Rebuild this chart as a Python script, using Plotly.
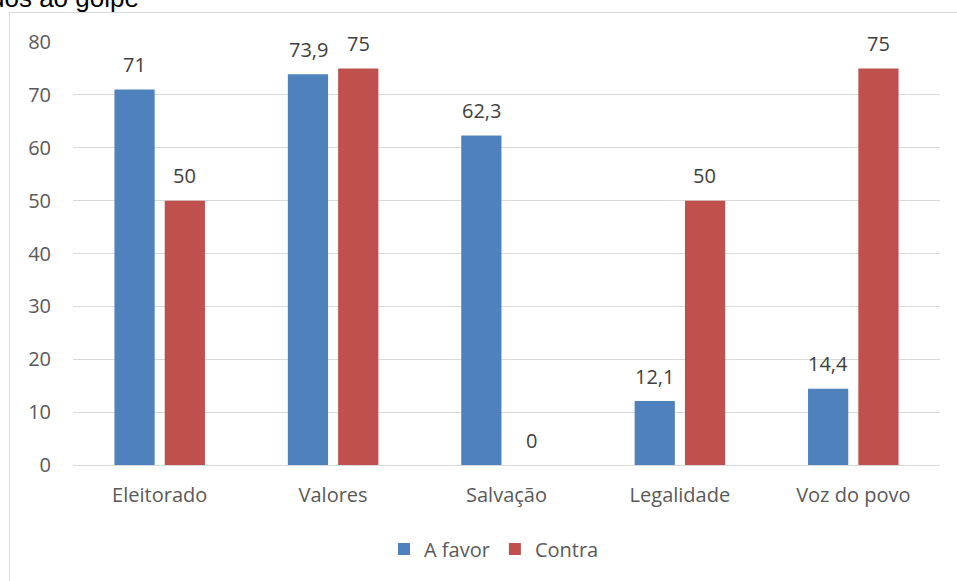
import plotly.graph_objects as go

categories = ["Eleitorado", "Valores", "Salvação", "Legalidade", "Voz do povo"]
a_favor = [71, 73.9, 62.3, 12.1, 14.4]
contra = [50, 75, 0, 50, 75]
series_names = ["A favor", "Contra"]
colors = ["#4f81bd", "#c0504d"]

def fmt(v):
    return f"{v:g}".replace(".", ",")

FONT = "Open Sans, Noto Sans, sans-serif"

fig = go.Figure()
for name, vals, col in zip(series_names, [a_favor, contra], colors):
    fig.add_trace(go.Bar(
        name=name, x=categories, y=vals,
        marker=dict(color=col, line=dict(width=0)),
        hoverinfo="x+y",
    ))

# data labels, placed at each bar's value through the axes
annotations = []
for vals, shift in zip([a_favor, contra], [-25, 25]):
    for c, v in zip(categories, vals):
        annotations.append(dict(
            x=c, y=v, xref="x", yref="y", xshift=shift, yshift=25,
            text=fmt(v), showarrow=False, xanchor="center", yanchor="middle",
            font=dict(size=20, color="#404040", family=FONT)))

W, H = 957, 581
L, R, T, B = 73, 17, 42, 116
pw, ph = W - L - R, H - T - B

def px_x(p):
    return (p - L) / pw

def px_y(p):
    return (H - B - p) / ph

annotations.append(dict(
    text="dos ao golpe", xref="paper", yref="paper", x=px_x(141), xanchor="right",
    y=px_y(15), yanchor="bottom", showarrow=False,
    font=dict(family="Liberation Sans, Arial, sans-serif", size=26, color="#000000")))

fig.update_layout(
    width=W, height=H,
    margin=dict(l=L, r=R, t=T, b=B),
    paper_bgcolor="white", plot_bgcolor="white",
    barmode="group", bargap=0.42, bargroupgap=0.2,
    separators=",.",
    font=dict(family=FONT, color="#595959", size=20),
    showlegend=True,
    legend=dict(orientation="h", x=px_x(494), xanchor="center", y=px_y(549), yanchor="middle",
                font=dict(size=20, color="#595959", family=FONT), itemwidth=30,
                traceorder="normal"),
    xaxis=dict(showgrid=False, showline=True, linecolor="#d9d9d9", linewidth=1,
               ticks="", tickfont=dict(size=20, color="#595959"), ticklabelstandoff=12),
    yaxis=dict(range=[0, 80], dtick=10, showgrid=True, gridcolor="#d9d9d9", gridwidth=1,
               zeroline=False, showline=False, ticks="",
               tickfont=dict(size=20, color="#595959"), ticklabelstandoff=21),
    shapes=[
        dict(type="line", xref="paper", yref="paper", x0=px_x(9.5), x1=px_x(957), y0=px_y(12.5), y1=px_y(12.5),
             line=dict(color="#d9d9d9", width=1)),
        dict(type="line", xref="paper", yref="paper", x0=px_x(9.5), x1=px_x(9.5), y0=px_y(12.5), y1=px_y(581),
             line=dict(color="#d9d9d9", width=1)),
    ],
    annotations=annotations,
)

fig.write_html("out.html")
